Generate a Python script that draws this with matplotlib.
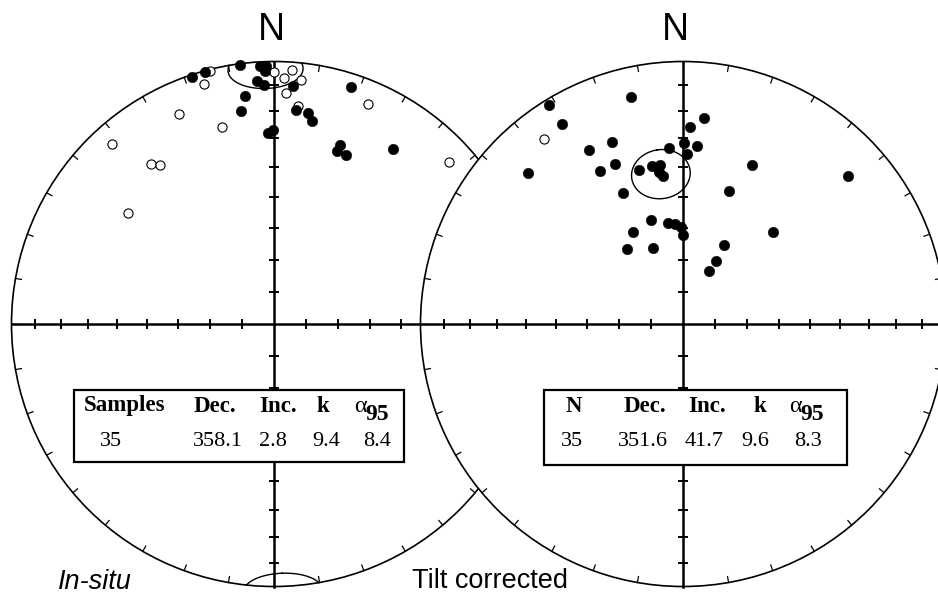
import numpy as np
import matplotlib
matplotlib.use("Agg")
import matplotlib.pyplot as plt
from matplotlib.patches import Circle, Rectangle

# Site-mean directions, in-situ coordinates (deg). Negative inclination = upper hemisphere.
insitu_dec = [352.6, 356.9, 358.2, 358.0, 355.9, 357.6, 344.7, 341.7, 352.7, 351.1,
              358.3, 359.8, 4.6, 5.9, 9.1, 10.7, 18.0, 20.2, 20.0, 23.1, 34.2,
              345.8, 343.7, 335.7, 345.1, 318.0, 322.4, 324.4, 307.3, 0.0, 2.3,
              4.0, 6.3, 3.0, 6.4, 23.1, 47.2]
insitu_inc = [0.7, 1.8, 1.8, 4.1, 8.1, 9.6, 0.4, 0.9, 13.6, 19.1,
              28.0, 27.1, 10.1, 19.0, 19.9, 22.2, 5.5, 28.0, 30.7, 30.6, 20.4,
              -0.5, -5.1, -13.1, -23.4, -8.4, -24.1, -26.3, -30.6, -4.6, -7.1,
              -3.5, -7.1, -13.1, -17.7, -9.7, -9.9]

# Same sites after bedding (tilt) correction
tilt_dec = [347.1, 328.5, 328.8, 5.9, 2.0, 0.2, 4.6, 1.5, 355.6, 338.8,
            331.7, 336.9, 331.7, 314.1, 344.1, 349.0, 351.7, 351.0, 352.3, 335.4,
            23.4, 48.1, 19.0, 343.1, 351.4, 355.2, 358.7, 359.9, 331.6, 323.1,
            338.2, 44.4, 27.6, 27.4, 26.2, 323.1]
tilt_inc = [12.3, 2.6, 11.7, 22.1, 26.0, 31.6, 32.6, 35.6, 33.2, 26.5,
            25.8, 34.0, 34.0, 18.7, 39.0, 38.5, 38.6, 41.0, 42.6, 44.3,
            34.4, 16.5, 45.5, 55.8, 57.9, 58.5, 59.7, 62.2, 57.2, 60.9,
            64.6, 49.3, 62.3, 68.0, 71.8, -13.1]

# Fisher statistics: N, Dec, Inc, k, alpha95
insitu_header = ["Samples", "Dec.", "Inc.", "k"]
tilt_header = ["N", "Dec.", "Inc.", "k"]
insitu_stats = ["35", "358.1", "2.8", "9.4", "8.4"]
tilt_stats = ["35", "351.6", "41.7", "9.6", "8.3"]
panel_labels = ["In-situ", "Tilt corrected"]

W, H = 938, 597
fig = plt.figure(figsize=(W / 100, H / 100), dpi=100)
ax = fig.add_axes([0, 0, 1, 1])
ax.set_xlim(0, W)
ax.set_ylim(H, 0)
ax.axis("off")

SANS = ["Liberation Sans", "DejaVu Sans"]
SERIF = ["Liberation Serif", "DejaVu Serif"]


def eqarea_radius(inc, R):
    inc = np.abs(np.asarray(inc, dtype=float))
    return R * np.sqrt(2.0) * np.sin(np.radians(90.0 - inc) / 2.0)


def project(dec, inc, cx, cy, R):
    dec = np.radians(np.asarray(dec, dtype=float))
    r = eqarea_radius(inc, R)
    return cx + r * np.sin(dec), cy - r * np.cos(dec)


def draw_net(cx, cy, R, z):
    ax.add_patch(Circle((cx, cy), R, facecolor="white", edgecolor="black",
                        lw=1.2, zorder=z))
    # azimuth ticks every 10 degrees on the primitive
    for az in range(0, 360, 10):
        a = np.radians(az)
        ax.plot([cx + R * np.sin(a), cx + (R - 6) * np.sin(a)],
                [cy - R * np.cos(a), cy - (R - 6) * np.cos(a)],
                color="black", lw=0.9, zorder=z + 0.1)
    # N-S and E-W diameters
    ax.plot([cx - R, cx + R], [cy, cy], color="black", lw=1.8, zorder=z + 0.2)
    ax.plot([cx, cx], [cy - R, cy + R], color="black", lw=1.8, zorder=z + 0.2)
    # inclination ticks every 10 degrees along the diameters
    for inc in range(10, 90, 10):
        r = float(eqarea_radius(inc, R))
        for s in (-1, 1):
            ax.plot([cx + s * r, cx + s * r], [cy - 4, cy + 4],
                    color="black", lw=1.4, zorder=z + 0.2)
            ax.plot([cx - 4, cx + 4], [cy + s * r, cy + s * r],
                    color="black", lw=1.4, zorder=z + 0.2)


def a95_cone(dec, inc, a95, cx, cy, R, z):
    D, I, a = np.radians(dec), np.radians(inc), np.radians(a95)
    e3 = np.array([np.cos(I) * np.cos(D), np.cos(I) * np.sin(D), np.sin(I)])
    e1 = np.array([np.sin(I) * np.cos(D), np.sin(I) * np.sin(D), -np.cos(I)])
    e2 = np.cross(e3, e1)
    t = np.linspace(0, 2 * np.pi, 3000)
    p = (np.cos(a) * e3[:, None]
         + np.sin(a) * (np.cos(t) * e1[:, None] + np.sin(t) * e2[:, None]))
    pinc = np.degrees(np.arcsin(np.clip(p[2], -1, 1)))
    pdec = np.degrees(np.arctan2(p[1], p[0]))
    lower = pinc >= 0
    x1, y1 = project(pdec, pinc, cx, cy, R)
    x2, y2 = project(pdec + 180.0, -pinc, cx, cy, R)
    ax.plot(np.where(lower, x1, np.nan), np.where(lower, y1, np.nan),
            color="black", lw=1.0, zorder=z)
    ax.plot(np.where(~lower, x2, np.nan), np.where(~lower, y2, np.nan),
            color="black", lw=1.0, zorder=z)


def draw_points(dec, inc, cx, cy, R, z):
    dec = np.asarray(dec, dtype=float)
    inc = np.asarray(inc, dtype=float)
    x, y = project(dec, inc, cx, cy, R)
    up = inc < 0
    ax.scatter(x[up], y[up], s=6.6 ** 2, facecolor="white", edgecolor="black",
               linewidths=0.8, zorder=z)
    ax.scatter(x[~up], y[~up], s=7.6 ** 2, facecolor="black", edgecolor="black",
               linewidths=0.3, zorder=z + 0.1)


def draw_table(x0, y0, w, h, header, stats, hx, vx, z):
    ax.add_patch(Rectangle((x0, y0), w, h, facecolor="white", edgecolor="black",
                           lw=1.6, zorder=z))
    hy, vy = 411.5, 446.0
    for label, x in zip(header, hx[:4]):
        ax.text(x, hy, label, family=SERIF, fontsize=16.5, fontweight="bold",
                ha="left", va="baseline", zorder=z + 1)
    ax.text(hx[4], hy, "\u03b1", family=SERIF, fontsize=17.5,
            ha="left", va="baseline", zorder=z + 1)
    ax.text(hx[4] + 11, hy + 8.5, "95", family=SERIF, fontsize=17,
            fontweight="bold", ha="left", va="baseline", zorder=z + 1)
    for val, x in zip(stats, vx):
        ax.text(x, vy, val, family=SERIF, fontsize=16,
                ha="left", va="baseline", zorder=z + 1)


R = 262.5
CY = 324
LCX, RCX = 274, 683

# In-situ net
draw_net(LCX, CY, R, 1)
a95_cone(float(insitu_stats[1]), float(insitu_stats[2]), float(insitu_stats[4]),
         LCX, CY, R, 2)
draw_points(insitu_dec, insitu_inc, LCX, CY, R, 3)
draw_table(74, 390, 330, 72, insitu_header, insitu_stats,
           [84, 194, 259, 316, 354], [100, 193, 259, 312, 363], 4)

# Tilt-corrected net, drawn over the first one
draw_net(RCX, CY, R, 10)
a95_cone(float(tilt_stats[1]), float(tilt_stats[2]), float(tilt_stats[4]),
         RCX, CY, R, 11)
draw_points(tilt_dec, tilt_inc, RCX, CY, R, 12)
draw_table(543.5, 390, 303.5, 75, tilt_header, tilt_stats,
           [566, 624, 688, 753.5, 789.5], [560.5, 618, 685, 741.5, 794], 14)

# North labels and panel captions
for x in (271, 675):
    ax.text(x, 40, "N", family=SANS, fontsize=27, ha="center", va="baseline",
            zorder=20)
ax.text(58, 589, panel_labels[0], family=SANS, fontsize=19.5, style="italic",
        ha="left", va="baseline", zorder=20)
ax.text(412, 588, panel_labels[1], family=SANS, fontsize=19.5,
        ha="left", va="baseline", zorder=20)

fig.savefig("out.png", dpi=100)
